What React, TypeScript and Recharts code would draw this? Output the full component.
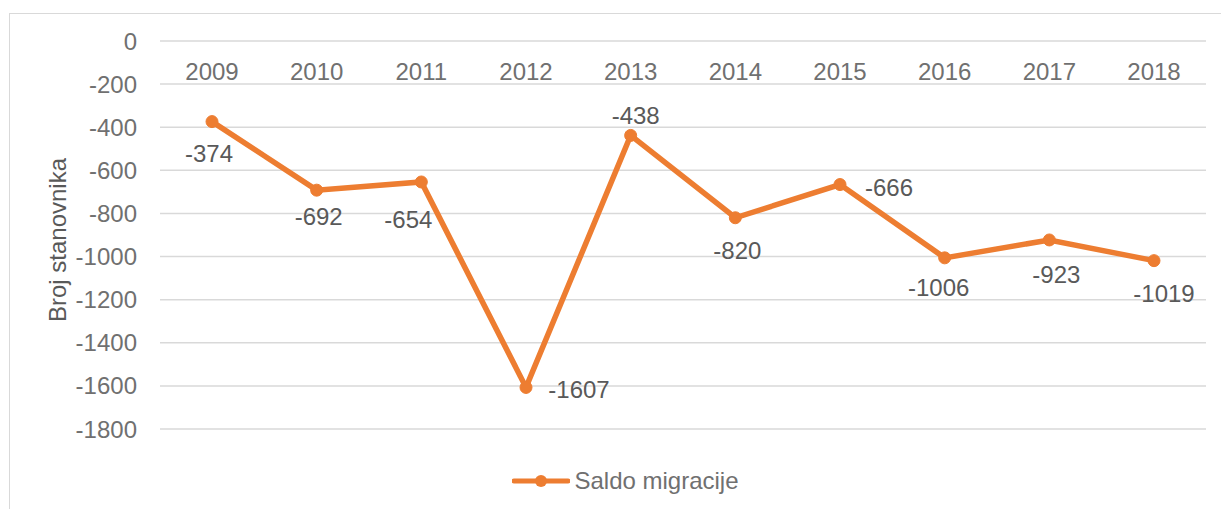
import { LineChart, Line, XAxis, YAxis, CartesianGrid, Legend, LabelList } from 'recharts';

const years = ['2009', '2010', '2011', '2012', '2013', '2014', '2015', '2016', '2017', '2018'];
const saldo = [-374, -692, -654, -1607, -438, -820, -666, -1006, -923, -1019];
const yTicks = [0, -200, -400, -600, -800, -1000, -1200, -1400, -1600, -1800];

// manual label nudges (dx, dy from the point), like the hand-placed labels in the original
const LABEL_OFFSETS: [number, number][] = [
  [-3, 32], [2, 26], [-13, 37], [53, 2], [5, -20],
  [2, 33], [49, 3], [-6, 30], [7, 34], [10, 33]
];

const ORANGE = '#ED7D31';
const AXIS_TEXT = '#707070';
const LABEL_TEXT = '#595959';
const FONT = '"Liberation Sans", Arial, sans-serif';
const FS = 24;
const PLOT_TOP = 27;
const LEGEND_H = 26;

const data = years.map((year, i) => ({ year, saldo: saldo[i] }));

const YearTick = (props: any) => {
  const { x, payload } = props;
  return (
    <text x={x} y={PLOT_TOP + 30} dy="0.36em" textAnchor="middle" fill={AXIS_TEXT} fontSize={FS} fontFamily={FONT}>
      {payload.value}
    </text>
  );
};

const PointLabel = (props: any) => {
  const { x, y, value, index } = props;
  const [dx, dy] = LABEL_OFFSETS[index] || [0, 30];
  return (
    <text x={x + dx} y={y + dy} dy="0.36em" textAnchor="middle" fill={LABEL_TEXT} fontSize={FS} fontFamily={FONT}>
      {value}
    </text>
  );
};

const AxisTitle = (props: any) => {
  const vb = props.viewBox || { x: 0, y: 0, height: 0 };
  const cx = vb.x + 47;
  const cy = vb.y + vb.height / 2 + 5;
  return (
    <text
      x={cx}
      y={cy}
      dy="0.36em"
      textAnchor="middle"
      transform={`rotate(-90 ${cx} ${cy})`}
      fill={LABEL_TEXT}
      fontSize={FS}
      fontFamily={FONT}
    >
      Broj stanovnika
    </text>
  );
};

const LegendContent = () => (
  <div style={{ display: 'flex', justifyContent: 'center', alignItems: 'center', height: LEGEND_H, paddingLeft: 20 }}>
    <svg width={58} height={16}>
      <line x1={2} y1={8} x2={56} y2={8} stroke={ORANGE} strokeWidth={5} strokeLinecap="round" />
      <circle cx={29} cy={8} r={6} fill={ORANGE} />
    </svg>
    <span style={{ marginLeft: 4, color: AXIS_TEXT, fontSize: FS, fontFamily: FONT, lineHeight: `${LEGEND_H}px` }}>
      Saldo migracije
    </span>
  </div>
);

export default function App() {
  return (
    <div
      style={{
        position: 'fixed',
        left: 9,
        top: 13,
        width: 1212,
        height: 496,
        borderTop: '1.5px solid #d9d9d9',
        borderLeft: '1.5px solid #d9d9d9',
        background: '#fff'
      }}
    >
      <LineChart width={1211} height={495} data={data} margin={{ top: 0, right: 15, left: 0, bottom: 80 - LEGEND_H }}>
        <CartesianGrid vertical={false} stroke="#d9d9d9" strokeWidth={1.5} />
        <XAxis
          dataKey="year"
          orientation="top"
          height={PLOT_TOP}
          axisLine={false}
          tickLine={false}
          padding={{ left: 52, right: 52 }}
          tick={<YearTick />}
          interval={0}
        />
        <YAxis
          domain={[-1800, 0]}
          ticks={yTicks}
          width={150}
          axisLine={false}
          tickLine={false}
          tickSize={0}
          tickMargin={23}
          tick={{ fill: AXIS_TEXT, fontSize: FS, fontFamily: FONT }}
          label={<AxisTitle />}
        />
        <Legend
          content={<LegendContent />}
          wrapperStyle={{ top: 454, left: 0, width: 1211 }}
        />
        <Line
          type="linear"
          dataKey="saldo"
          name="Saldo migracije"
          stroke={ORANGE}
          strokeWidth={5.5}
          dot={{ r: 6, fill: ORANGE, stroke: ORANGE, strokeWidth: 1 }}
          activeDot={false}
          isAnimationActive={false}
        >
          <LabelList dataKey="saldo" content={<PointLabel />} />
        </Line>
      </LineChart>
    </div>
  );
}
